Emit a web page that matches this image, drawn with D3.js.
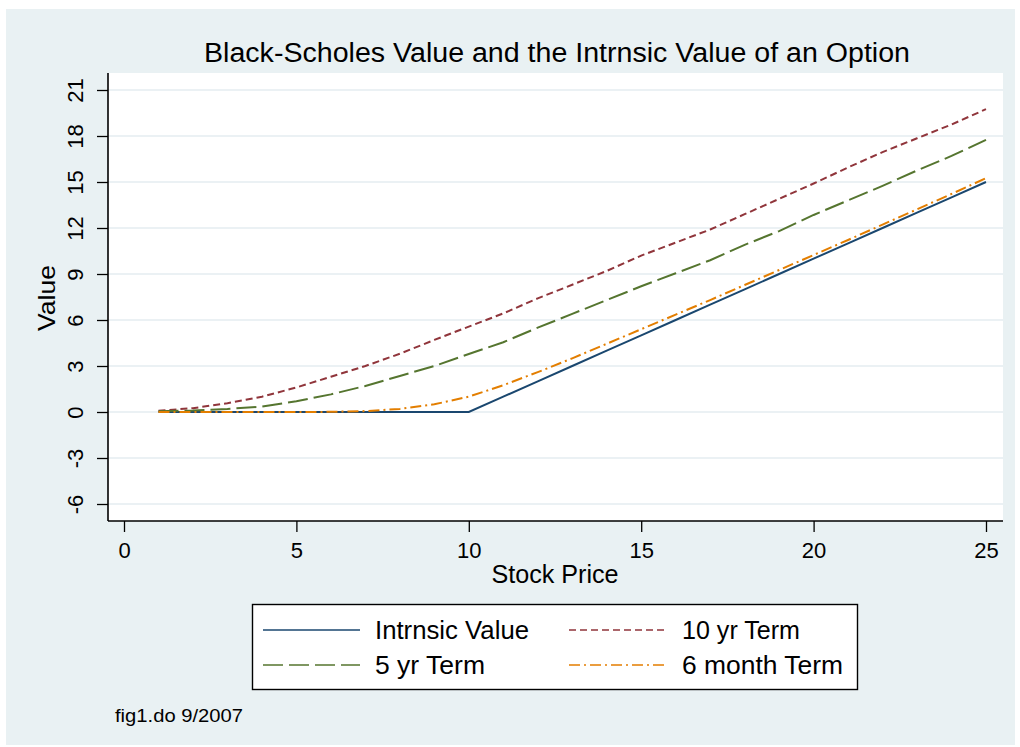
<!DOCTYPE html>
<html lang="en">
<head>
  <meta charset="UTF-8">
  <title>Black-Scholes Value and the Intrnsic Value of an Option</title>
  <style>
    body { margin: 0; background: #fff; }
    text { font-family: "Liberation Sans", Arial, sans-serif; fill: #000; }
  </style>
</head>
<body>
  <script src="https://d3js.org/d3.v7.min.js"></script>
  <script>
    // stock price (x) and the four series
    const price = [1, 2, 3, 4, 5, 6, 7, 8, 9, 10, 11, 12, 13, 14, 15, 16, 17, 18, 19, 20, 21, 22, 23, 24, 25];
    const intrinsic = [0, 0, 0, 0, 0, 0, 0, 0, 0, 0, 1, 2, 3, 4, 5, 6, 7, 8, 9, 10, 11, 12, 13, 14, 15];
    const tenYr = [0.08, 0.25, 0.57, 1.0, 1.6, 2.3, 3.0, 3.8, 4.7, 5.57, 6.43, 7.41, 8.3, 9.2, 10.2, 11.05, 11.9, 12.9, 13.9, 14.9, 15.95, 16.95, 17.85, 18.75, 19.75];
    const fiveYr = [0.05, 0.1, 0.2, 0.35, 0.7, 1.15, 1.7, 2.35, 3.0, 3.78, 4.55, 5.5, 6.4, 7.3, 8.2, 9.05, 9.9, 10.9, 11.8, 12.85, 13.8, 14.75, 15.75, 16.7, 17.75];
    const sixMonth = [0, 0, 0, 0, 0, 0.01, 0.06, 0.2, 0.5, 1.0, 1.75, 2.6, 3.5, 4.45, 5.4, 6.35, 7.3, 8.28, 9.26, 10.24, 11.22, 12.22, 13.22, 14.22, 15.25];

    const seriesNames = ["Intrnsic Value", "10 yr Term", "5 yr Term", "6 month Term"];
    const xTicks = [0, 5, 10, 15, 20, 25];
    const yTicks = [-6, -3, 0, 3, 6, 9, 12, 15, 18, 21];

    // look of each series (stata s2color-ish)
    const styles = [
      {color: "#1a476f", dash: null},
      {color: "#90353b", dash: "7,4"},
      {color: "#55752f", dash: "20,6"},
      {color: "#e37e00", dash: "11,4,2,4"}
    ];
    const allSeries = [intrinsic, tenYr, fiveYr, sixMonth];

    const width = 1020, height = 747;
    const plot = {left: 108, right: 1003, top: 73, bottom: 521};
    const font = "'Liberation Sans', Arial, sans-serif";

    const svg = d3.select("body").append("svg")
      .attr("width", width)
      .attr("height", height);

    // graph region background
    svg.append("rect")
      .attr("x", 6).attr("y", 9)
      .attr("width", 1009).attr("height", 736)
      .attr("fill", "#e9f1f3");

    // plot region
    svg.append("rect")
      .attr("x", plot.left).attr("y", plot.top)
      .attr("width", plot.right - plot.left).attr("height", plot.bottom - plot.top)
      .attr("fill", "#fff");

    const x = d3.scaleLinear().domain([0, 25]).range([124, 986]);
    const y = d3.scaleLinear().domain([-6, 21]).range([504, 90]);

    // gridlines
    svg.append("g").selectAll("line")
      .data(yTicks)
      .join("line")
      .attr("x1", plot.left).attr("x2", plot.right)
      .attr("y1", d => y(d)).attr("y2", d => y(d))
      .attr("stroke", "#e5edf1")
      .attr("stroke-width", 1.5);

    // y axis (plain hyphen for negatives, like the original)
    const yAxis = svg.append("g")
      .attr("transform", `translate(${plot.left},0)`)
      .call(d3.axisLeft(y).tickValues(yTicks).tickSize(11).tickFormat(d => String(d)));
    yAxis.select(".domain").remove();
    yAxis.selectAll(".tick line").attr("stroke", "#000").attr("stroke-width", 1.3);
    yAxis.selectAll(".tick text")
      .attr("x", 0).attr("dy", null)
      .attr("transform", "translate(-25,0) rotate(-90)")
      .attr("text-anchor", "middle")
      .attr("font-size", 22)
      .style("font-family", font)
      .attr("fill", "#000");

    svg.append("line")
      .attr("x1", plot.left).attr("x2", plot.left)
      .attr("y1", plot.top).attr("y2", plot.bottom)
      .attr("stroke", "#000").attr("stroke-width", 1.6);

    // x axis
    const xAxis = svg.append("g")
      .attr("transform", `translate(0,${plot.bottom})`)
      .call(d3.axisBottom(x).tickValues(xTicks).tickSize(11).tickFormat(d => String(d)));
    xAxis.select(".domain").remove();
    xAxis.selectAll(".tick line").attr("stroke", "#000").attr("stroke-width", 1.3);
    xAxis.selectAll(".tick text")
      .attr("y", 37).attr("dy", null)
      .attr("font-size", 22)
      .style("font-family", font)
      .attr("fill", "#000");

    svg.append("line")
      .attr("x1", plot.left).attr("x2", plot.right)
      .attr("y1", plot.bottom).attr("y2", plot.bottom)
      .attr("stroke", "#000").attr("stroke-width", 1.6);

    // axis titles
    svg.append("text")
      .attr("x", 555).attr("y", 583)
      .attr("text-anchor", "middle")
      .attr("font-size", 25)
      .attr("textLength", 127).attr("lengthAdjust", "spacingAndGlyphs")
      .text("Stock Price");

    svg.append("text")
      .attr("transform", "translate(55,298) rotate(-90)")
      .attr("text-anchor", "middle")
      .attr("font-size", 24)
      .attr("textLength", 66).attr("lengthAdjust", "spacingAndGlyphs")
      .text("Value");

    // title
    svg.append("text")
      .attr("x", 557).attr("y", 62)
      .attr("text-anchor", "middle")
      .attr("font-size", 27)
      .attr("textLength", 706).attr("lengthAdjust", "spacingAndGlyphs")
      .text("Black-Scholes Value and the Intrnsic Value of an Option");

    // series lines
    const line = d3.line()
      .x((d, i) => x(price[i]))
      .y(d => y(d));

    svg.append("g").selectAll("path")
      .data(allSeries)
      .join("path")
      .attr("d", d => line(d))
      .attr("fill", "none")
      .attr("stroke", (d, i) => styles[i].color)
      .attr("stroke-width", 2)
      .attr("stroke-dasharray", (d, i) => styles[i].dash);

    // legend
    const legend = svg.append("g");
    legend.append("rect")
      .attr("x", 252.5).attr("y", 604.5)
      .attr("width", 605).attr("height", 85)
      .attr("fill", "#fff")
      .attr("stroke", "#000").attr("stroke-width", 1.4);

    const legendPos = [
      {lx: 263, tx: 375, y: 630, len: 154},
      {lx: 569, tx: 682, y: 630, len: 118},
      {lx: 263, tx: 375, y: 665, len: 110},
      {lx: 569, tx: 682, y: 665, len: 161}
    ];

    const items = legend.selectAll("g.item")
      .data(seriesNames)
      .join("g")
      .attr("class", "item");

    items.append("line")
      .attr("x1", (d, i) => legendPos[i].lx)
      .attr("x2", (d, i) => legendPos[i].lx + 97)
      .attr("y1", (d, i) => legendPos[i].y)
      .attr("y2", (d, i) => legendPos[i].y)
      .attr("stroke", (d, i) => styles[i].color)
      .attr("stroke-width", 1.7)
      .attr("stroke-dasharray", (d, i) => styles[i].dash);

    items.append("text")
      .attr("x", (d, i) => legendPos[i].tx)
      .attr("y", (d, i) => legendPos[i].y + 9)
      .attr("font-size", 25)
      .attr("textLength", (d, i) => legendPos[i].len)
      .attr("lengthAdjust", "spacingAndGlyphs")
      .text(d => d);

    // note
    svg.append("text")
      .attr("x", 115).attr("y", 722)
      .attr("font-size", 19)
      .attr("textLength", 128).attr("lengthAdjust", "spacingAndGlyphs")
      .text("fig1.do 9/2007");
  </script>
</body>
</html>
